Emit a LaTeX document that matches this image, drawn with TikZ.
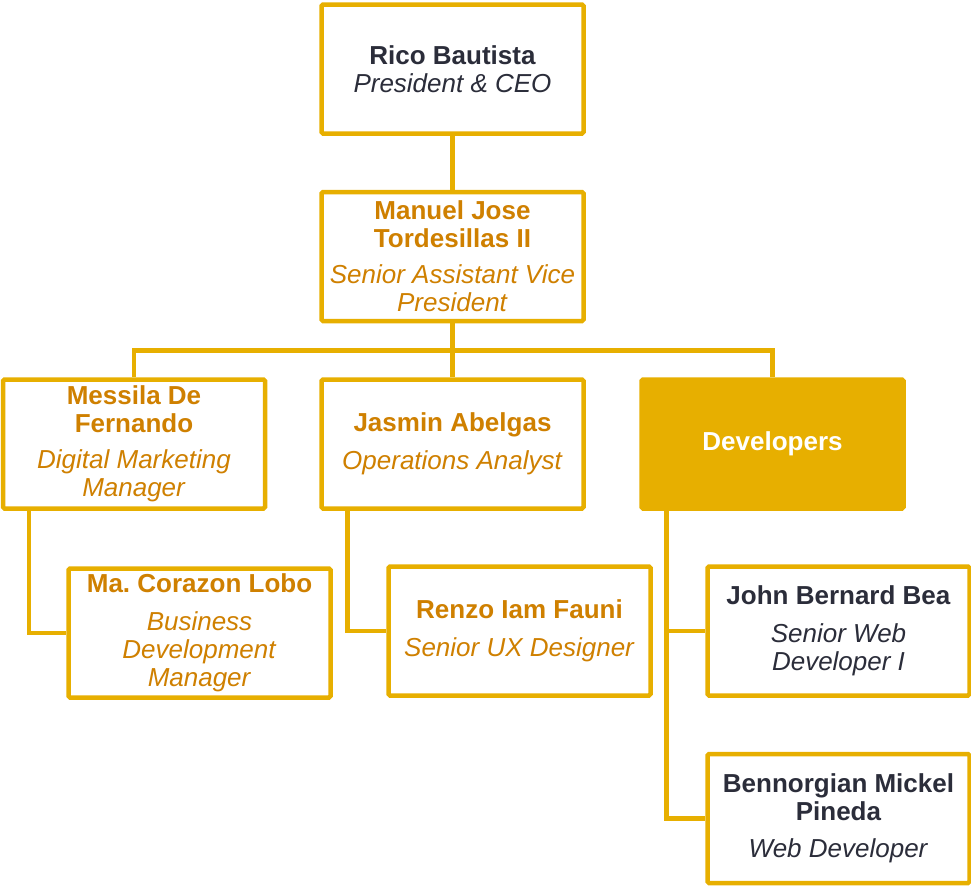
\documentclass[tikz,border=0pt]{standalone}
\usepackage{fontspec}
\setmainfont{Liberation Sans}
\usepackage{tikz}
\usetikzlibrary{calc,positioning}
\definecolor{chartgold}{RGB}{231,175,0}
\definecolor{chartorange}{RGB}{207,128,0}
\definecolor{chartdark}{RGB}{43,45,58}
\tikzset{
  person/.style={draw=chartgold,line width=4.5pt,fill=white,rounded corners=1.5pt,
    minimum width=262pt,minimum height=129pt,inner sep=0pt,align=center,
    font=\fontsize{26}{28}\selectfont},
  team/.style={person,fill=chartgold,text=white},
  link/.style={draw=chartgold,line width=4.5pt}
}
\newcommand{\staff}[2]{\textbf{#1}\\[10pt]\textit{#2}}

\begin{document}
\begin{tikzpicture}[x=1pt,y=-1pt]
  \useasboundingbox (0,0) rectangle (971,887);

  % top of the chart
  \node [person,text=chartdark] (rico) at (452.5,69) {\textbf{Rico Bautista}\\\textit{President \& CEO}};
  \node [person,text=chartorange] (manuel) at (452.5,256.5) {\textbf{Manuel Jose}\\\textbf{Tordesillas II}\\[8pt]\textit{Senior Assistant Vice}\\\textit{President}};

  % second level
  \node [person,text=chartorange] (messila) at (134,444) {\textbf{Messila De}\\\textbf{Fernando}\\[8pt]\textit{Digital Marketing}\\\textit{Manager}};
  \node [person,text=chartorange] (jasmin) at (452.5,444) {\staff{Jasmin Abelgas}{Operations Analyst}};
  \node [team] (dev) at (772.5,444) {\textbf{Developers}};

  % third level
  \node [person,text=chartorange] (lobo) at (199.5,633) {\textbf{Ma.\ Corazon Lobo}\\[10pt]\textit{Business}\\\textit{Development}\\\textit{Manager}};
  \node [person,text=chartorange] (renzo) at (519.5,631) {\staff{Renzo Iam Fauni}{Senior UX Designer}};
  \node [person,text=chartdark] (john) at (838.5,631) {\textbf{John Bernard Bea}\\[10pt]\textit{Senior Web}\\\textit{Developer I}};
  \node [person,text=chartdark] (benn) at (838.5,818.5) {\textbf{Bennorgian Mickel}\\\textbf{Pineda}\\[9pt]\textit{Web Developer}};

  % connectors
  \path [link] (rico) -- (manuel);
  \path [link] (manuel) -- (jasmin);
  \path [link] (messila.north) -- ++(0,-27) -| (dev.north);
  \path [link] ([xshift=28pt]messila.south west) |- (lobo.west);
  \path [link] ([xshift=28pt]jasmin.south west) |- (renzo.west);
  \path [link] ([xshift=27pt]dev.south west) |- (john.west);
  \path [link] ([xshift=27pt]dev.south west) |- (benn.west);
\end{tikzpicture}
\end{document}
